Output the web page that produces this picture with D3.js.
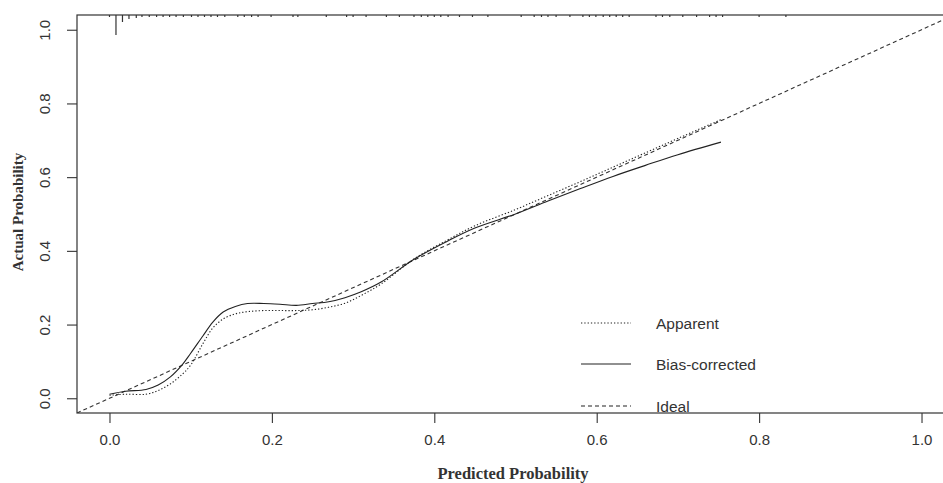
<!DOCTYPE html>
<html lang="en">
<head>
<meta charset="UTF-8">
<title>Calibration curve</title>
<script src="https://d3js.org/d3.v7.min.js"></script>
<style>
  body { margin: 0; background: #fff; }
  svg { display: block; }
</style>
</head>
<body>
<div id="chart"></div>
<script>
// predicted probability grid shared by both curves
const predX = [0, 0.02, 0.045, 0.06, 0.075, 0.09, 0.10, 0.115, 0.127, 0.14, 0.155, 0.17, 0.19, 0.21, 0.23, 0.25, 0.27, 0.29, 0.31, 0.335, 0.375, 0.415, 0.45, 0.5, 0.54, 0.58, 0.62, 0.66, 0.70, 0.753];
const apparentY = [0.008, 0.011, 0.011, 0.021, 0.039, 0.066, 0.09, 0.148, 0.19, 0.215, 0.229, 0.235, 0.238, 0.238, 0.238, 0.24, 0.247, 0.258, 0.279, 0.311, 0.378, 0.428, 0.468, 0.512, 0.55, 0.588, 0.627, 0.666, 0.705, 0.756];
const biasY = [0.011, 0.019, 0.024, 0.036, 0.058, 0.092, 0.122, 0.169, 0.206, 0.234, 0.249, 0.257, 0.257, 0.255, 0.252, 0.257, 0.262, 0.273, 0.289, 0.316, 0.377, 0.425, 0.462, 0.500, 0.535, 0.569, 0.602, 0.632, 0.661, 0.695];

// distribution of predicted probabilities (rug along the top)
const rugX = [0.000, 0.008, 0.016, 0.024, 0.033, 0.040, 0.049, 0.058, 0.066, 0.074, 0.082, 0.091, 0.101, 0.109, 0.117, 0.125, 0.133, 0.142, 0.158, 0.166, 0.175, 0.183, 0.199, 0.226, 0.232, 0.267, 0.292, 0.300, 0.316, 0.341, 0.357, 0.375, 0.384, 0.392, 0.400, 0.408, 0.417, 0.431, 0.447, 0.466, 0.507, 0.523, 0.532, 0.540, 0.550, 0.567, 0.583, 0.591, 0.599, 0.608, 0.616, 0.624, 0.632, 0.640, 0.673, 0.681, 0.690, 0.706, 0.723, 0.739, 0.747, 0.755, 0.800, 0.833];
const rugCount = [1, 10, 3.5, 2, 1.5, 1, 1, 1, 1, 1, 1, 1, 1, 1, 1, 1, 1, 1, 1, 1, 1, 1, 1, 1, 1, 1, 1, 1, 1, 1, 1, 1, 1, 1, 1, 1, 1, 1, 1, 1, 1, 1, 1, 1, 1, 1, 1, 1, 1, 1, 1, 1, 1, 1, 1, 1, 1, 1, 1, 1, 1, 1, 1, 1];

const tickVals = [0, 0.2, 0.4, 0.6, 0.8, 1.0];
const legendLabels = ["Apparent", "Bias-corrected", "Ideal"];
const legendDash = ["1.3,2", null, "4,3"];

const width = 943, height = 483;
const box = { left: 77, top: 15, right: 954, bottom: 413 };

const x = d3.scaleLinear().domain([-0.04, 1.04]).range([box.left, box.right]);
const y = d3.scaleLinear().domain([-0.04, 1.04]).range([box.bottom, box.top]);

const svg = d3.select("#chart").append("svg")
  .attr("width", width).attr("height", height)
  .style("font-family", "'Liberation Sans', Arial, sans-serif");

svg.append("clipPath").attr("id", "clip")
  .append("rect")
  .attr("x", box.left).attr("y", box.top)
  .attr("width", box.right - box.left).attr("height", box.bottom - box.top);

const plot = svg.append("g").attr("clip-path", "url(#clip)");

// ideal line
plot.append("line")
  .attr("x1", x(-0.04)).attr("y1", y(-0.04))
  .attr("x2", x(1.04)).attr("y2", y(1.04))
  .attr("stroke", "#333").attr("stroke-width", 1.1)
  .attr("stroke-dasharray", "4,3");

const line = d3.line()
  .x((d, i) => x(predX[i]))
  .y(d => y(d))
  .curve(d3.curveCatmullRom);

plot.append("path").datum(apparentY)
  .attr("d", line).attr("fill", "none")
  .attr("stroke", "#222").attr("stroke-width", 1.1)
  .attr("stroke-dasharray", "1.3,2");

plot.append("path").datum(biasY)
  .attr("d", line).attr("fill", "none")
  .attr("stroke", "#222").attr("stroke-width", 1.1);

// rug
const rugH = d3.scaleLinear().domain([0, 10]).range([0, 20]);
plot.selectAll("line.rug").data(rugX).enter().append("line")
  .attr("class", "rug")
  .attr("x1", d => x(d)).attr("x2", d => x(d))
  .attr("y1", box.top)
  .attr("y2", (d, i) => box.top + rugH(rugCount[i]))
  .attr("stroke", "#333").attr("stroke-width", 1.2);

// frame
svg.append("rect")
  .attr("x", box.left).attr("y", box.top)
  .attr("width", box.right - box.left).attr("height", box.bottom - box.top)
  .attr("fill", "none").attr("stroke", "#333").attr("stroke-width", 1.2);

// x axis
const xAxis = svg.append("g")
  .attr("transform", `translate(0,${box.bottom})`)
  .call(d3.axisBottom(x).tickValues(tickVals).tickFormat(d3.format(".1f")).tickSize(10).tickPadding(11));
xAxis.select(".domain").remove();
xAxis.selectAll("line").attr("stroke", "#333").attr("stroke-width", 1.1);
xAxis.selectAll("text").attr("font-size", 15).attr("fill", "#333")
  .attr("font-family", "'Liberation Sans', Arial, sans-serif");

// y axis
const yAxis = svg.append("g")
  .attr("transform", `translate(${box.left},0)`)
  .call(d3.axisLeft(y).tickValues(tickVals).tickFormat(d3.format(".1f")).tickSize(10));
yAxis.select(".domain").remove();
yAxis.selectAll("line").attr("stroke", "#333").attr("stroke-width", 1.1);
yAxis.selectAll("text")
  .attr("font-size", 15).attr("fill", "#333")
  .attr("font-family", "'Liberation Sans', Arial, sans-serif")
  .attr("x", null)
  .attr("text-anchor", "middle")
  .attr("transform", "translate(-32,0) rotate(-90)")
  .attr("dy", "0.35em");

// axis titles
svg.append("text")
  .attr("x", 513).attr("y", 479)
  .attr("text-anchor", "middle")
  .attr("font-family", "'Liberation Serif', 'Times New Roman', serif")
  .attr("font-weight", "bold").attr("font-size", 16.5).attr("fill", "#333")
  .text("Predicted Probability");

svg.append("text")
  .attr("transform", "translate(23,212) rotate(-90)")
  .attr("text-anchor", "middle")
  .attr("font-family", "'Liberation Serif', 'Times New Roman', serif")
  .attr("font-weight", "bold").attr("font-size", 15).attr("fill", "#333")
  .text("Actual Probability");

// legend
const legY = [323, 364, 406];
const leg = svg.append("g");
legendLabels.forEach((lab, i) => {
  const l = leg.append("line")
    .attr("x1", 581).attr("x2", 631)
    .attr("y1", legY[i]).attr("y2", legY[i])
    .attr("stroke", "#222").attr("stroke-width", 1.1);
  if (legendDash[i]) l.attr("stroke-dasharray", legendDash[i]);
  leg.append("text")
    .attr("x", 656).attr("y", legY[i] + 1)
    .attr("dy", "0.35em")
    .attr("font-size", 15.5).attr("fill", "#333")
    .text(lab);
});
</script>
</body>
</html>
